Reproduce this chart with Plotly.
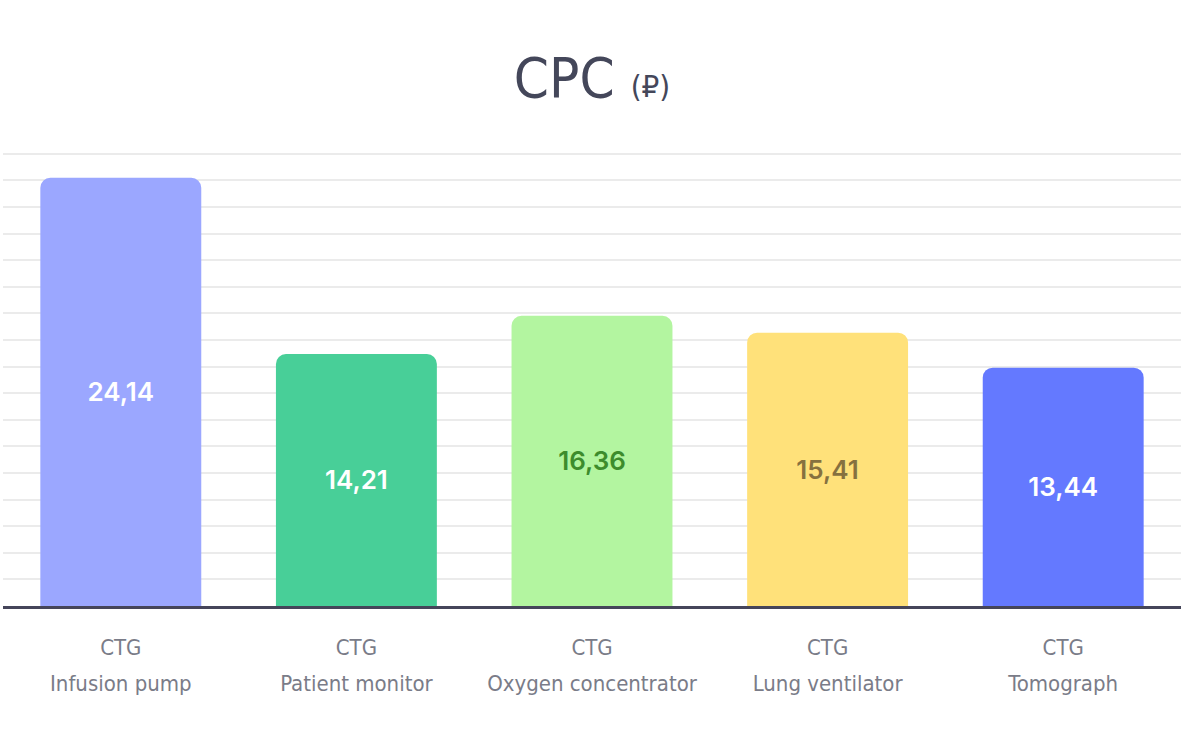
import plotly.graph_objects as go

categories = ["Infusion pump", "Patient monitor", "Oxygen concentrator", "Lung ventilator", "Tomograph"]
tick_prefix = "CTG"
values = [24.14, 14.21, 16.36, 15.41, 13.44]
value_labels = ["24,14", "14,21", "16,36", "15,41", "13,44"]
bar_colors = ["#9ba7ff", "#48cf98", "#b3f5a0", "#ffe17a", "#6479ff"]
text_colors = ["#ffffff", "#ffffff", "#3d8c2c", "#86713f", "#ffffff"]

positions = list(range(len(categories)))
tick_font = dict(family="DejaVu Sans Condensed", size=22, color="#7a7c88")

fig = go.Figure()
fig.add_trace(go.Bar(
    x=positions,
    y=values,
    width=0.683,
    marker=dict(color=bar_colors, line=dict(width=0)),
    text=value_labels,
    textposition="inside",
    insidetextanchor="middle",
    textangle=0,
    textfont=dict(family="Inter", size=26, color=text_colors, weight=600),
    hoverinfo="skip",
))
# invisible helper trace so the second tick-label row (xaxis2) is drawn
fig.add_trace(go.Scatter(
    x=positions, y=values, xaxis="x2", mode="markers",
    marker=dict(opacity=0), hoverinfo="skip", showlegend=False,
))

fig.update_layout(
    template="none",
    width=1184, height=747,
    margin=dict(l=3, r=3, t=136, b=141, autoexpand=False),
    paper_bgcolor="white", plot_bgcolor="white",
    showlegend=False,
    barcornerradius=10,
    title=dict(
        text="CPC <span style='font-size:31px'>(₽)</span>",
        x=0.5, xanchor="center", y=0.897, yanchor="middle",
        font=dict(family="DejaVu Sans Condensed", size=56, color="#44475a"),
    ),
    xaxis=dict(
        tickmode="array", tickvals=positions, ticktext=[tick_prefix] * len(categories),
        range=[-0.5, 4.5], automargin=False,
        showline=True, linecolor="#45455a", linewidth=3,
        showgrid=False, zeroline=False,
        ticks="outside", ticklen=20, tickcolor="rgba(0,0,0,0)",
        tickfont=tick_font,
    ),
    xaxis2=dict(
        overlaying="x", anchor="y", side="bottom",
        tickmode="array", tickvals=positions, ticktext=categories,
        range=[-0.5, 4.5], automargin=False,
        showline=False, showgrid=False, zeroline=False,
        ticks="outside", ticklen=58, tickcolor="rgba(0,0,0,0)",
        tickfont=tick_font,
    ),
    yaxis=dict(
        range=[0, 26.5], dtick=1.5, showticklabels=False, automargin=False,
        showgrid=True, gridcolor="#ebebeb", gridwidth=1.5,
        zeroline=False, fixedrange=True,
    ),
)

fig.write_html("out.html", config={"displayModeBar": False},
               post_script="document.body.style.margin='0';")
